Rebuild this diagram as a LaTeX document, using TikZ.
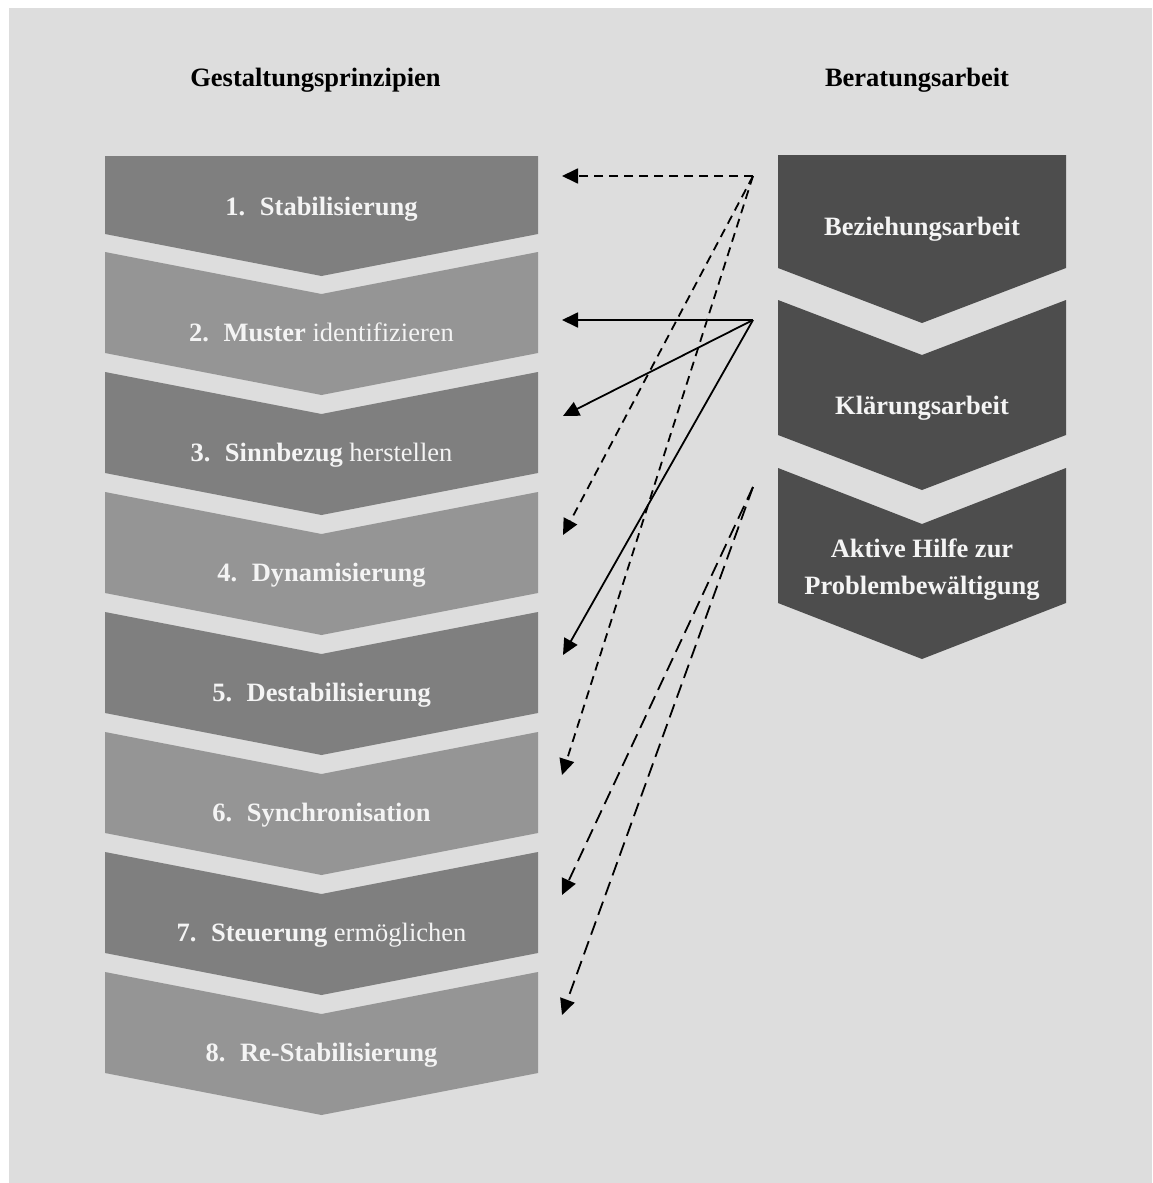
\documentclass[tikz,border=0pt]{standalone}
\usepackage{fontspec}
\setmainfont{Liberation Serif}
\usetikzlibrary{arrows.meta}
\definecolor{panel}{HTML}{DDDDDD}
\definecolor{stepdark}{HTML}{7F7F7F}
\definecolor{steplight}{HTML}{959595}
\definecolor{workfill}{HTML}{4D4D4D}
\definecolor{labeltext}{HTML}{F4F4F4}

% chevron with a notched top: fill, left x, right x, top y, side height, depth
\newcommand\notchchev[6]{%
  \fill[#1] (#2,#4) -- ({(#2+#3)/2},{#4+#6}) -- (#3,#4) -- (#3,{#4+#5})
    -- ({(#2+#3)/2},{#4+#5+#6}) -- (#2,{#4+#5}) -- cycle;}
% chevron with a flat top: fill, left x, right x, top y, side height, depth
\newcommand\flatchev[6]{%
  \fill[#1] (#2,#4) -- (#3,#4) -- (#3,{#4+#5})
    -- ({(#2+#3)/2},{#4+#5+#6}) -- (#2,{#4+#5}) -- cycle;}

\begin{document}
\begin{tikzpicture}[x=1pt,y=-1pt,
  lbl/.style={text=labeltext,font=\fontsize{26.5}{37}\selectfont\bfseries,
    anchor=base,inner sep=0pt,align=center},
  head/.style={text=black,font=\fontsize{26.5}{32}\selectfont\bfseries,
    anchor=base,inner sep=0pt},
  link/.style={line width=1.8pt,-{Triangle[length=16pt,width=15pt]}},
  shortdash/.style={link,dash pattern=on 9pt off 6pt},
  longdash/.style={link,dash pattern=on 14pt off 7pt},
]
% page and panel
\fill[white] (0,0) rectangle (1152,1183);
\fill[panel] (9,8) rectangle (1152,1183);

% column headings
\node[head] (t1) at (315.5,86) {Gestaltungsprinzipien};
\node[head] (t2) at (917,86) {Beratungsarbeit};

% left column: eight principles
\flatchev{stepdark}{105}{538}{156}{78}{42}
\notchchev{steplight}{105}{538}{252}{101}{42}
\notchchev{stepdark}{105}{538}{372}{101}{42}
\notchchev{steplight}{105}{538}{492}{101}{42}
\notchchev{stepdark}{105}{538}{612}{101}{42}
\notchchev{steplight}{105}{538}{732}{101}{42}
\notchchev{stepdark}{105}{538}{852}{101}{42}
\notchchev{steplight}{105}{538}{972}{101}{42}

\node[lbl] (s1) at (321.5,215) {1.\hspace{0.55em}Stabilisierung};
\node[lbl] (s2) at (321.5,341) {2.\hspace{0.55em}Muster {\mdseries identifizieren}};
\node[lbl] (s3) at (321.5,461) {3.\hspace{0.55em}Sinnbezug {\mdseries herstellen}};
\node[lbl] (s4) at (321.5,581) {4.\hspace{0.55em}Dynamisierung};
\node[lbl] (s5) at (321.5,701) {5.\hspace{0.55em}Destabilisierung};
\node[lbl] (s6) at (321.5,821) {6.\hspace{0.55em}Synchronisation};
\node[lbl] (s7) at (321.5,941) {7.\hspace{0.55em}Steuerung {\mdseries ermöglichen}};
\node[lbl] (s8) at (321.5,1061) {8.\hspace{0.55em}Re-Stabilisierung};

% right column: counselling work
\flatchev{workfill}{778}{1066}{155}{113}{55}
\notchchev{workfill}{778}{1066}{300}{135}{55}
\notchchev{workfill}{778}{1066}{468}{135}{56}

\node[lbl] (r1) at (922,235) {Beziehungsarbeit};
\node[lbl] (r2) at (922,414) {Klärungsarbeit};
\node[lbl,anchor=center] (r3) at (922,570) {Aktive Hilfe zur\\Problembewältigung};

% connector ends
\coordinate (srcA) at (753,176);
\coordinate (srcB) at (753,320);
\coordinate (srcC) at (753,487);
\coordinate (a1) at (562,176);
\coordinate (a4) at (563,535);
\coordinate (a6) at (562,775);
\coordinate (b2) at (562,320);
\coordinate (b3) at (563,416);
\coordinate (b5) at (563,655);
\coordinate (c7) at (562,895);
\coordinate (c8) at (562,1015);

% relationship work
\draw[shortdash] (srcA) -- (a1);
\draw[shortdash] (srcA) -- (a4);
\draw[shortdash] (srcA) -- (a6);
% clarification work
\draw[link] (srcB) -- (b2);
\draw[link] (srcB) -- (b3);
\draw[link] (srcB) -- (b5);
% active help
\draw[longdash] (srcC) -- (c7);
\draw[longdash] (srcC) -- (c8);
\end{tikzpicture}
\end{document}
